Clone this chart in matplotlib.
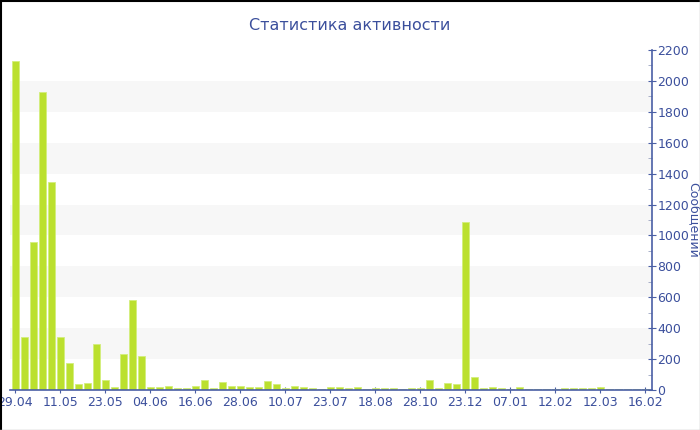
import matplotlib
matplotlib.use("Agg")
import matplotlib.pyplot as plt
from matplotlib.lines import Line2D
from matplotlib.ticker import MultipleLocator

values = [2130, 340, 960, 1930, 1345, 340, 175, 40, 45, 300,
          65, 20, 230, 585, 220, 17, 17, 24, 13, 10,
          28, 63, 15, 54, 26, 26, 19, 22, 58, 39,
          13, 24, 17, 11, 6, 17, 17, 10, 22, 9,
          13, 10, 10, 6, 10, 10, 67, 13, 43, 39,
          1090, 86, 13, 17, 10, 9, 17, 6, 6, 6,
          9, 10, 15, 15, 12, 22, 7, 7, 7, 7, 7]
tick_labels = ["29.04", "11.05", "23.05", "04.06", "16.06", "28.06", "10.07",
               "23.07", "18.08", "28.10", "23.12", "07.01", "12.02", "12.03", "16.02"]
tick_step = 5
title = "Статистика активности"
ylabel = "Сообщений"

blue = "#3b4f9c"
axis_blue = "#4a5fa5"
bar_color = "#bbe02e"

fig = plt.figure(figsize=(7, 4.3), dpi=100)
ax = fig.add_axes([10/700, 1-390/430, 642/700, 340/430])

# alternating bands
for lo in range(200, 2200, 400):
    ax.axhspan(lo, lo+200, color="#f7f7f7", zorder=0, lw=0)

x = list(range(len(values)))
ax.bar(x, values, width=0.78, color=bar_color, edgecolor="#d3ee7c",
       linewidth=0.6, zorder=2)

ax.set_xlim(-0.6, 70.75)
ax.set_ylim(0, 2200)

ax.set_xticks(list(range(0, len(values), tick_step))[:len(tick_labels)])
ax.set_xticklabels(tick_labels)

ax.yaxis.tick_right()
ax.yaxis.set_label_position("right")
ax.yaxis.set_major_locator(MultipleLocator(200))
ax.yaxis.set_minor_locator(MultipleLocator(100))

for s in ["top", "left"]:
    ax.spines[s].set_visible(False)
for s in ["bottom", "right"]:
    ax.spines[s].set_color(axis_blue)
    ax.spines[s].set_linewidth(1.2)

ax.tick_params(axis="x", colors=axis_blue, labelcolor=blue, labelsize=9,
               length=4, direction="inout", pad=2)
ax.tick_params(axis="y", which="major", colors=axis_blue, labelcolor=blue,
               labelsize=9, length=6, direction="inout", pad=1)
ax.tick_params(axis="y", which="minor", colors="#9aa3c0", length=3,
               direction="in")

ax.set_ylabel(ylabel, color=blue, fontsize=9, rotation=270, labelpad=10)
ax.yaxis.set_label_coords(1.075, 0.5)

fig.text(0.5, 1-25/430, title, ha="center", va="center", color=blue,
         fontsize=11.5)

# figure border
fig.add_artist(Line2D([0.5/700, 0.5/700], [0, 1], color="black", lw=1.5,
                      transform=fig.transFigure))
fig.add_artist(Line2D([0, 1], [1-0.5/430, 1-0.5/430], color="black", lw=1.5,
                      transform=fig.transFigure))
fig.add_artist(Line2D([1-0.5/700, 1-0.5/700], [0, 1], color="#bbbbbb", lw=1,
                      transform=fig.transFigure))
fig.add_artist(Line2D([0, 1], [0.5/430, 0.5/430], color="#bbbbbb", lw=1,
                      transform=fig.transFigure))

fig.savefig("out.png", dpi=100)
